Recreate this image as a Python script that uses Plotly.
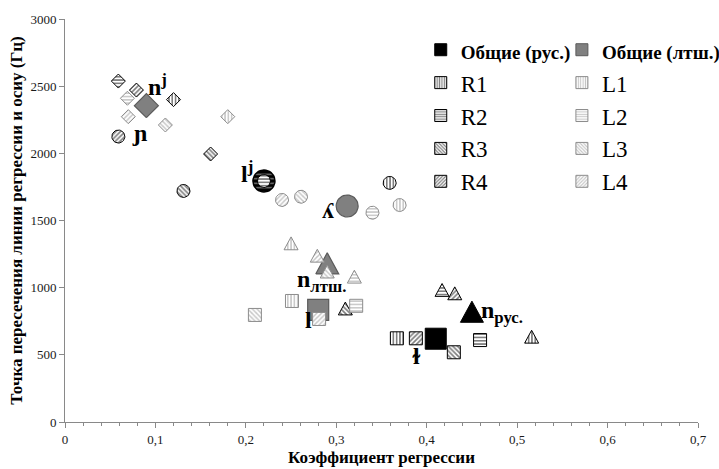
import numpy as np
import plotly.graph_objects as go

# ---------------- data ----------------
X_RANGE = [0, 0.7]
Y_RANGE = [0, 3000]
x_tickvals = [0, 0.1, 0.2, 0.3, 0.4, 0.5, 0.6, 0.7]
y_tickvals = [0, 500, 1000, 1500, 2000, 2500, 3000]

# sound categories, one marker shape each: nʲ/ɲ, lʲ/ʎ, n, l/ɫ
SHAPES = ["diamond", "circle", "triangle", "square"]

R1_x = [0.120, 0.359, 0.516, 0.367]
R1_y = [2400, 1780, 635, 623]
R2_x = [0.059, 0.220, 0.417, 0.459]
R2_y = [2538, 1794, 983, 610]
R3_x = [0.161, 0.131, 0.310, 0.430]
R3_y = [1995, 1720, 845, 519]
R4_x = [0.079, 0.059, 0.431, 0.388]
R4_y = [2471, 2125, 958, 623]
L1_x = [0.180, 0.370, 0.250, 0.251]
L1_y = [2273, 1615, 1330, 901]
L2_x = [0.069, 0.340, 0.320, 0.322]
L2_y = [2410, 1558, 1082, 865]
L3_x = [0.111, 0.261, 0.290, 0.210]
L3_y = [2211, 1677, 1120, 797]
L4_x = [0.070, 0.240, 0.279, 0.281]
L4_y = [2273, 1653, 1238, 767]
RUS_x = [None, 0.220, 0.450, 0.410]
RUS_y = [None, 1794, 821, 620]
LAT_x = [0.090, 0.312, 0.290, 0.280]
LAT_y = [2355, 1608, 1181, 834]

label_text = ["n<sup>j</sup>", "ɲ", "l<sup>j</sup>", "ʎ", "n<sub>лтш.</sub>", "l", "ɫ", "n<sub>рус.</sub>"]
label_x = [0.0896, 0.0829, 0.2013, 0.2903, 0.2543, 0.2698, 0.3892, 0.4578]
label_y = [2509, 2151, 1861, 1578, 1050, 759, 491, 819]
label_anchor = ["left", "center", "center", "center", "left", "center", "center", "left"]

# ---------------- layout geometry ----------------
W, H = 719, 469
M_L, M_R, M_T, M_B = 65, 21, 19, 47
PLOT_W = W - M_L - M_R
PLOT_H = H - M_T - M_B
KX = (X_RANGE[1] - X_RANGE[0]) / PLOT_W   # data units per pixel
KY = (Y_RANGE[1] - Y_RANGE[0]) / PLOT_H

SMALL = {"diamond": 14, "circle": 13, "triangle": 14, "square": 13}
BIG = {"diamond": 24, "circle": 22, "triangle": 23, "square": 21}


def outline(shape, cx, cy, size):
    r = size / 2.0
    if shape == "circle":
        t = np.linspace(0, 2 * np.pi, 37)
        px, py = r * np.cos(t), r * np.sin(t)
    elif shape == "square":
        px = np.array([-r, r, r, -r, -r]); py = np.array([-r, -r, r, r, -r])
    elif shape == "diamond":
        px = np.array([0, r, 0, -r, 0]); py = np.array([-r, 0, r, 0, -r])
    else:  # triangle up
        h = size * 0.92
        px = np.array([-r, r, 0, -r]); py = np.array([-h / 2, -h / 2, h / 2, -h / 2])
    return list(cx + px * KX), list(cy + py * KY)


def polys(xs, ys, sizes):
    X, Y = [], []
    for shape, cx, cy in zip(SHAPES, xs, ys):
        if cx is None:
            continue
        px, py = outline(shape, cx, cy, sizes[shape])
        X += px + [None]
        Y += py + [None]
    return X, Y


fig = go.Figure()

BLACK = "#000000"
GRAY_FG = "#8c8c8c"
GRAY_LINE = "#8c8c8c"
BIG_GRAY = "#808080"
BIG_GRAY_LINE = "#5a5a5a"

# common (big) markers
gx, gy = polys(LAT_x, LAT_y, BIG)
fig.add_trace(go.Scatter(x=gx, y=gy, mode="lines", fill="toself", fillcolor=BIG_GRAY,
                         line=dict(color=BIG_GRAY_LINE, width=1.2), showlegend=False, hoverinfo="skip"))
rx_plain = [v if s != "circle" else None for s, v in zip(SHAPES, RUS_x)]
bx, by = polys(rx_plain, RUS_y, BIG)
fig.add_trace(go.Scatter(x=bx, y=by, mode="lines", fill="toself", fillcolor=BLACK,
                         line=dict(color=BLACK, width=1), showlegend=False, hoverinfo="skip"))
rx_circ = [v if s == "circle" else None for s, v in zip(SHAPES, RUS_x)]
cx_, cy_ = polys(rx_circ, RUS_y, BIG)
fig.add_trace(go.Scatter(x=cx_, y=cy_, mode="lines", fill="toself", fillcolor=BLACK,
                         fillpattern=dict(shape="-", fgcolor="white", bgcolor=BLACK, size=4.5, solidity=0.3),
                         line=dict(color=BLACK, width=1.5), showlegend=False, hoverinfo="skip"))

series = [
    ("R1", R1_x, R1_y, "|", BLACK, BLACK, "legend", 0.5),
    ("R2", R2_x, R2_y, "-", BLACK, BLACK, "legend", 0.5),
    ("R3", R3_x, R3_y, "\\", BLACK, BLACK, "legend", 0.5),
    ("R4", R4_x, R4_y, "/", BLACK, BLACK, "legend", 0.5),
    ("L1", L1_x, L1_y, "|", GRAY_FG, GRAY_LINE, "legend2", 0.45),
    ("L2", L2_x, L2_y, "-", GRAY_FG, GRAY_LINE, "legend2", 0.45),
    ("L3", L3_x, L3_y, "\\", GRAY_FG, GRAY_LINE, "legend2", 0.45),
    ("L4", L4_x, L4_y, "/", GRAY_FG, GRAY_LINE, "legend2", 0.45),
]

for name, xs, ys, pat, fg, lc, _, sol in series:
    px, py = polys(xs, ys, SMALL)
    fig.add_trace(go.Scatter(x=px, y=py, mode="lines", fill="toself", fillcolor="white",
                             fillpattern=dict(shape=pat, fgcolor=fg, bgcolor="white", size=3.3, solidity=sol),
                             line=dict(color=lc, width=1), showlegend=False, hoverinfo="skip", name=name))

# legend entries (bar traces without drawable values just carry the patterned square icons)
fig.add_trace(go.Bar(x=[None], y=[None], name="<b><span style='font-size:19px'>Общие (рус.)</span></b>",
                     marker=dict(color=BLACK, line=dict(color=BLACK, width=1)),
                     legend="legend", legendgroup="rus", hoverinfo="skip"))
fig.add_trace(go.Bar(x=[None], y=[None], name="<b><span style='font-size:19px'>Общие (лтш.)</span></b>",
                     marker=dict(color=BIG_GRAY, line=dict(color=BIG_GRAY_LINE, width=1)),
                     legend="legend2", legendgroup="lat", hoverinfo="skip"))
for name, xs, ys, pat, fg, lc, lg, sol in series:
    fig.add_trace(go.Bar(x=[None], y=[None], name=name,
                         marker=dict(color="white", line=dict(color=lc, width=1),
                                     pattern=dict(shape=pat, fgcolor=fg, bgcolor="white", size=3, solidity=sol)),
                         legend=lg, legendgroup=name, hoverinfo="skip"))

for t, x, y, a in zip(label_text, label_x, label_y, label_anchor):
    fig.add_annotation(x=x, y=y, xref="x", yref="y", text="<b>" + t + "</b>", showarrow=False,
                       xanchor=a, yanchor="middle",
                       font=dict(family="Liberation Serif", size=24, color="black"))

axis_common = dict(showgrid=False, zeroline=False, showline=True, linecolor="#898989", linewidth=1,
                   ticks="outside", tickcolor="#898989", ticklen=5,
                   tickfont=dict(family="Liberation Serif", size=13, color="#1a1a1a"))

legend_common = dict(xanchor="left", yanchor="top", bgcolor="rgba(0,0,0,0)",
                     font=dict(family="Liberation Serif", size=23, color="black"),
                     tracegroupgap=0, itemwidth=30, traceorder="grouped")

fig.update_layout(
    width=W, height=H,
    margin=dict(l=M_L, r=M_R, t=M_T, b=M_B, autoexpand=False),
    paper_bgcolor="white", plot_bgcolor="white",
    separators=", ",
    showlegend=True,
    xaxis=dict(range=X_RANGE, tickvals=x_tickvals, tickformat=".1~f",
               minor=dict(dtick=0.02, ticks="outside", ticklen=3, tickcolor="#898989"),
               title=dict(text="<b>Коэффициент регрессии</b>", standoff=5,
                          font=dict(family="Liberation Serif", size=17, color="black")),
               **axis_common),
    yaxis=dict(range=Y_RANGE, tickvals=y_tickvals,
               title=dict(text="<b>Точка пересечения линии регрессии и осиу (Гц)</b>", standoff=3,
                          font=dict(family="Liberation Serif", size=17, color="black")),
               **axis_common),
    legend=dict(x=0.562, y=0.977, **legend_common),
    legend2=dict(x=0.785, y=0.977, **legend_common),
)

fig.write_html("out.html", config={"displayModeBar": False},
               post_script="document.body.style.margin='0';")
